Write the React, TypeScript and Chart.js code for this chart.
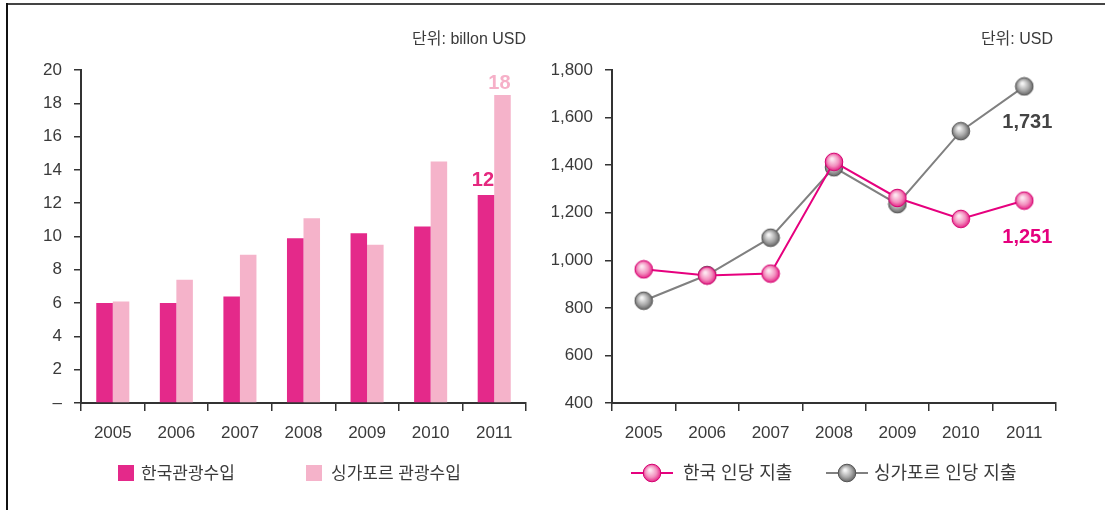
import { useEffect, useRef } from 'react';
import { Chart, registerables } from 'chart.js';

Chart.register(...registerables);

// ---- data ----
const years = ['2005', '2006', '2007', '2008', '2009', '2010', '2011'];
const koreaRevenue = [6.0, 6.0, 6.4, 9.9, 10.2, 10.6, 12.5];
const singaporeRevenue = [6.1, 7.4, 8.9, 11.1, 9.5, 14.5, 18.5];
const koreaPerCapita = [962, 936, 944, 1414, 1262, 1174, 1251];
const singaporePerCapita = [830, 938, 1095, 1391, 1236, 1543, 1731];

const barSeriesNames = ['한국관광수입', '싱가포르 관광수입'];
const lineSeriesNames = ['한국 인당 지출', '싱가포르 인당 지출'];
const barUnit = '단위: billon USD';
const lineUnit = '단위: USD';
const barEndLabels = ['12', '18'];
const lineEndLabels = ['1,251', '1,731'];
const revenueTicks = { min: 0, max: 20, step: 2 };
const perCapitaTicks = { min: 400, max: 1800, step: 200 };

// ---- styles ----
const FONT = '"Liberation Sans", "Noto Sans CJK KR", sans-serif';
const KOREA_BAR = '#E4298A';
const SING_BAR = '#F5B3CA';
const KOREA_LINE = '#E6007E';
const SING_LINE = '#808080';
const AXIS = '#333333';
const TICK = '#3a3a3a';

function makeBall(inner: string, mid: string, outer: string, stroke: string) {
  const c = document.createElement('canvas');
  c.width = 20;
  c.height = 20;
  const ctx = c.getContext('2d')!;
  const g = ctx.createRadialGradient(8, 7, 1, 10, 10, 9.5);
  g.addColorStop(0, inner);
  g.addColorStop(0.55, mid);
  g.addColorStop(1, outer);
  ctx.beginPath();
  ctx.arc(10, 10, 8.8, 0, Math.PI * 2);
  ctx.fillStyle = g;
  ctx.fill();
  ctx.lineWidth = 1;
  ctx.strokeStyle = stroke;
  ctx.stroke();
  return c;
}

const axisCommon = (tickLength: number) => ({
  grid: { drawOnChartArea: false, drawTicks: true, tickLength, color: AXIS, lineWidth: 1.5 },
  border: { display: true, color: AXIS, width: 2 },
});

const textPlugin = {
  id: 'extraText',
  afterDraw(chart: any, _args: any, opts: any) {
    const ctx = chart.ctx;
    const ca = chart.chartArea;
    ctx.save();
    // unit
    ctx.font = `16px ${FONT}`;
    ctx.fillStyle = TICK;
    ctx.textAlign = 'right';
    ctx.textBaseline = 'middle';
    ctx.fillText(opts.unit, ca.right + (opts.unitDx || 0), 40);
    // end labels
    (opts.endLabels || []).forEach((l: any) => {
      const meta = chart.getDatasetMeta(l.dataset);
      const el = meta.data[l.index];
      ctx.font = `bold ${l.size}px ${FONT}`;
      ctx.fillStyle = l.color;
      ctx.textAlign = 'center';
      ctx.textBaseline = 'alphabetic';
      ctx.fillText(l.text, el.x + l.dx, el.y + l.dy);
    });
    // legend
    ctx.font = `${opts.legendSize}px ${FONT}`;
    ctx.textAlign = 'left';
    ctx.textBaseline = 'middle';
    (opts.legend || []).forEach((item: any, i: number) => {
      const ds = chart.data.datasets[i];
      const y = 473;
      if (item.kind === 'box') {
        ctx.fillStyle = ds.backgroundColor;
        ctx.fillRect(item.x, y - 8, 16, 16);
      } else {
        ctx.strokeStyle = ds.borderColor;
        ctx.lineWidth = 2;
        ctx.beginPath();
        ctx.moveTo(item.x, y);
        ctx.lineTo(item.x + 42, y);
        ctx.stroke();
        const img = ds.pointStyle;
        ctx.drawImage(img, item.x + 21 - img.width / 2, y - img.height / 2);
      }
      ctx.fillStyle = TICK;
      ctx.fillText(ds.label, item.tx, y + 1);
    });
    ctx.restore();
  },
};

export default function App() {
  const leftRef = useRef<HTMLCanvasElement>(null);
  const rightRef = useRef<HTMLCanvasElement>(null);

  useEffect(() => {
    const pinkBall = makeBall('#FDE6F0', '#F390BF', '#E3157F', '#D4006F');
    const grayBall = makeBall('#F4F4F4', '#A9A9A9', '#5C5C5C', '#555555');

    const left = new Chart(leftRef.current!, {
      type: 'bar',
      data: {
        labels: years,
        datasets: [
          { label: barSeriesNames[0], data: koreaRevenue, backgroundColor: KOREA_BAR, categoryPercentage: 0.52, barPercentage: 1 },
          { label: barSeriesNames[1], data: singaporeRevenue, backgroundColor: SING_BAR, categoryPercentage: 0.52, barPercentage: 1 },
        ],
      },
      options: {
        responsive: false,
        animation: false,
        devicePixelRatio: 1,
        events: [],
        layout: { padding: { left: 0, right: 26, top: 70, bottom: 0 } },
        plugins: {
          legend: { display: false },
          tooltip: { enabled: false },
          extraText: {
            unit: barUnit,
            legendSize: 17,
            legend: [
              { kind: 'box', x: 118, tx: 141 },
              { kind: 'box', x: 306, tx: 331 },
            ],
            endLabels: [
              { dataset: 0, index: 6, text: barEndLabels[0], color: '#E5287F', size: 20, dx: -3, dy: -9 },
              { dataset: 1, index: 6, text: barEndLabels[1], color: '#F6B0C8', size: 20, dx: -3, dy: -6 },
            ],
          },
        } as any,
        scales: {
          x: {
            ...axisCommon(8),
            ticks: { color: TICK, font: { family: FONT, size: 17 }, padding: 12, maxRotation: 0 },
            afterFit: (s: any) => { s.height = 107; },
          },
          y: {
            ...axisCommon(7),
            min: revenueTicks.min,
            max: revenueTicks.max,
            ticks: {
              stepSize: revenueTicks.step,
              color: TICK,
              font: { family: FONT, size: 17 },
              padding: 12,
              callback: (v: any) => (v === 0 ? '–' : String(v)),
            },
            afterFit: (s: any) => { s.width = 81; },
          },
        } as any,
      },
      plugins: [textPlugin],
    });

    const right = new Chart(rightRef.current!, {
      type: 'line',
      data: {
        labels: years,
        datasets: [
          {
            label: lineSeriesNames[0], data: koreaPerCapita, borderColor: KOREA_LINE, backgroundColor: KOREA_LINE,
            borderWidth: 2, tension: 0, pointStyle: pinkBall as any, pointRadius: 9, clip: false as any,
          },
          {
            label: lineSeriesNames[1], data: singaporePerCapita, borderColor: SING_LINE, backgroundColor: SING_LINE,
            borderWidth: 2, tension: 0, pointStyle: grayBall as any, pointRadius: 9, clip: false as any,
          },
        ],
      },
      options: {
        responsive: false,
        animation: false,
        devicePixelRatio: 1,
        events: [],
        layout: { padding: { left: 0, right: 49, top: 70, bottom: 0 } },
        plugins: {
          legend: { display: false },
          tooltip: { enabled: false },
          extraText: {
            unit: lineUnit,
            unitDx: -3,
            legendSize: 18,
            legend: [
              { kind: 'line', x: 79, tx: 131 },
              { kind: 'line', x: 274, tx: 322 },
            ],
            endLabels: [
              { dataset: 0, index: 6, text: lineEndLabels[0], color: '#E5007E', size: 20, dx: 3, dy: 42 },
              { dataset: 1, index: 6, text: lineEndLabels[1], color: '#444444', size: 20, dx: 3, dy: 42 },
            ],
          },
        } as any,
        scales: {
          x: {
            ...axisCommon(8),
            offset: true,
            grid: { drawOnChartArea: false, drawTicks: true, tickLength: 8, color: AXIS, lineWidth: 1.5, offset: true },
            ticks: { color: TICK, font: { family: FONT, size: 17 }, padding: 12, maxRotation: 0 },
            afterFit: (s: any) => { s.height = 107; },
          },
          y: {
            ...axisCommon(7),
            min: perCapitaTicks.min,
            max: perCapitaTicks.max,
            ticks: {
              stepSize: perCapitaTicks.step,
              color: TICK,
              font: { family: FONT, size: 17 },
              padding: 12,
              callback: (v: any) => Number(v).toLocaleString('en-US'),
            },
            afterFit: (s: any) => { s.width = 60; },
          },
        } as any,
      },
      plugins: [textPlugin],
    });

    return () => {
      left.destroy();
      right.destroy();
    };
  }, []);

  return (
    <div style={{ position: 'absolute', left: 0, top: 0, width: 1105, height: 510, background: '#fff', overflow: 'hidden' }}>
      <div style={{ position: 'absolute', left: 6, top: 3, width: 1099, height: 2, background: '#444' }} />
      <div style={{ position: 'absolute', left: 6, top: 3, width: 2, height: 507, background: '#111' }} />
      <canvas ref={leftRef} width={552} height={510} style={{ position: 'absolute', left: 0, top: 0, display: 'block' }} />
      <canvas ref={rightRef} width={553} height={510} style={{ position: 'absolute', left: 552, top: 0, display: 'block' }} />
    </div>
  );
}
